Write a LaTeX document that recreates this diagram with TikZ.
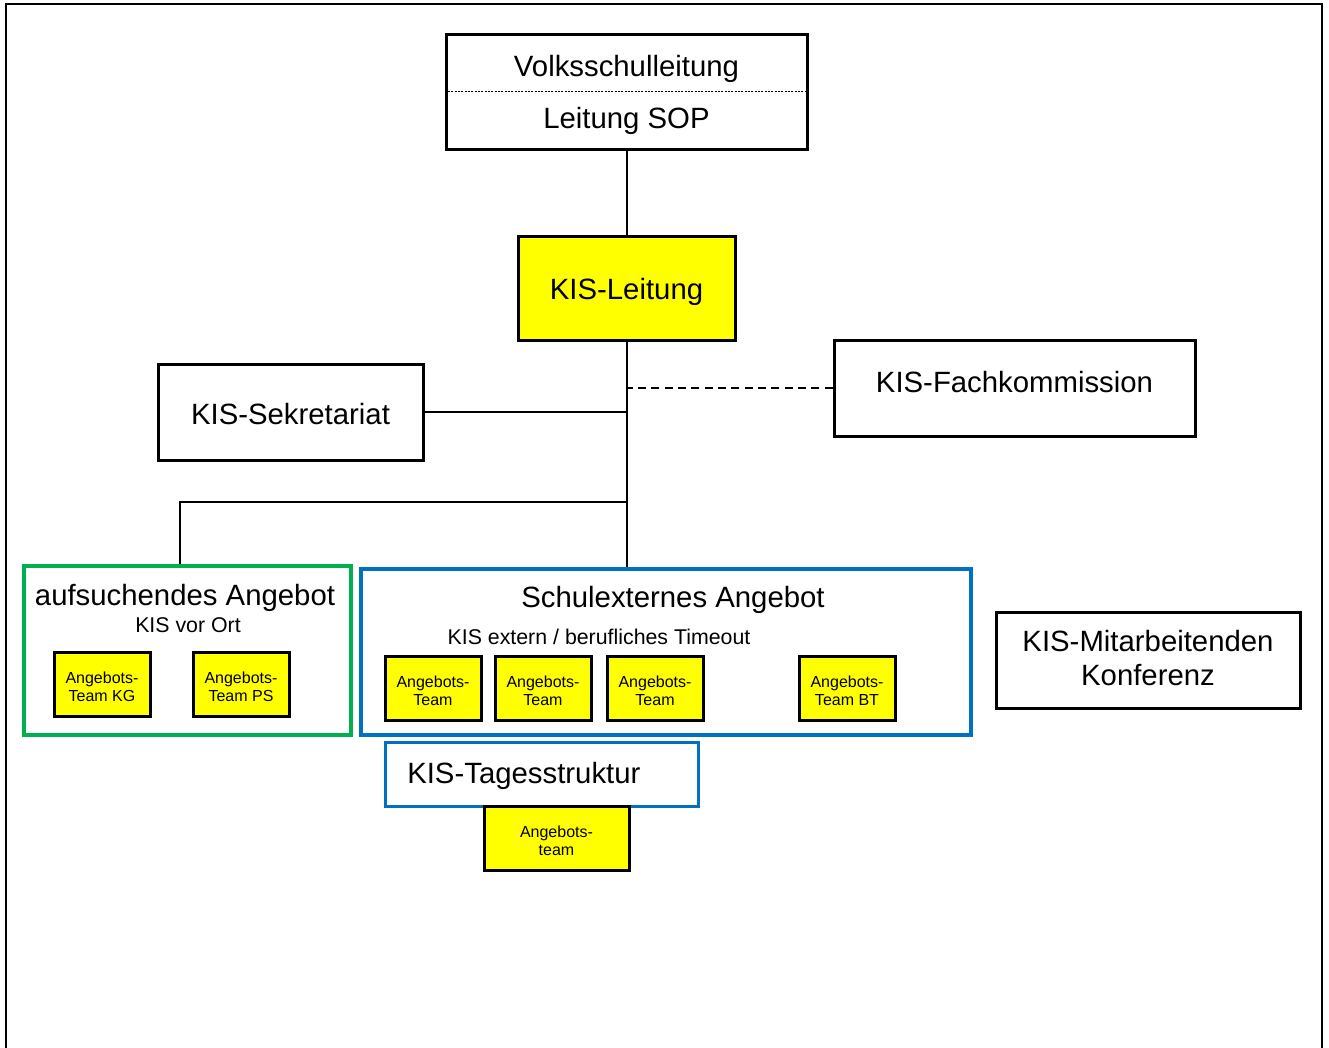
\documentclass[tikz,border=0pt]{standalone}
\usepackage{fontspec}
\setmainfont{Liberation Sans}
\definecolor{kgreen}{HTML}{00B050}
\definecolor{kblue}{HTML}{0070C0}
\definecolor{kyellow}{HTML}{FFFF00}
\begin{document}
\begin{tikzpicture}[x=0.75pt,y=-0.75pt,
  big/.style={font=\fontsize{22}{25.5}\selectfont, align=center},
  mid/.style={font=\fontsize{16}{19}\selectfont},
  small/.style={font=\fontsize{12}{13.5}\selectfont, align=center},
  wbox/.style={draw, line width=2.25pt, fill=white, inner sep=0pt},
  ybox/.style={draw, line width=2.25pt, fill=kyellow, inner sep=0pt},
  team/.style={ybox, minimum width=72pt, minimum height=48pt,
    label={[small, inner sep=0pt, yshift=-1.9pt]center:#1}},
  conn/.style={line width=1.5pt},
  txt/.style={inner sep=0pt}]
\useasboundingbox (0,0) rectangle (1329,1047);
% outer frame (open at the bottom)
\draw[line width=1.5pt] (6,1060) -- (6,4) -- (1322,4) -- (1322,1060);

% top box
\node[wbox, minimum width=270.75pt, minimum height=86.25pt] (vs) at (626.5,91.5) {};
\draw[line width=0.6pt, dash pattern=on 1.5pt off 1pt] (vs.west |- 0,91) -- (vs.east |- 0,91);
\node[txt, big] (vst) at (626.5,69) {Volksschulleitung};
\node[txt, big] (sop) at (626.5,121) {Leitung SOP};

% KIS-Leitung
\node[ybox, minimum width=162.75pt, minimum height=78pt] (kl) at (626.5,288) {};
\node[txt, big] (klt) at (626.5,292) {KIS-Leitung};

% Sekretariat and Fachkommission
\node[wbox, minimum width=198.75pt, minimum height=72pt] (sek) at (290.5,412) {};
\node[txt, big] (sekt) at (290.5,414) {KIS-Sekretariat};
\node[wbox, minimum width=270.75pt, minimum height=72pt] (fk) at (1014.5,388) {};
\node[txt, big] (fkt) at (1014.5,382) {KIS-Fachkommission};

% green box
\node[draw=kgreen, line width=3pt, fill=white, minimum width=245.25pt, minimum height=126.75pt] (ga) at (187.5,650.5) {};
\node[txt, big] (gat) at (185,598) {aufsuchendes Angebot};
\node[txt, mid] (gas) at (188,625) {KIS vor Ort};
\node[team={Angebots-\\Team KG}] (tkg) at (102,684) {};
\node[team={Angebots-\\Team PS}] (tps) at (241,684) {};

% blue box
\node[draw=kblue, line width=3pt, fill=white, minimum width=457.5pt, minimum height=124.5pt] (be) at (666,652) {};
\node[txt, big] (bet) at (673,600) {Schulexternes Angebot};
\node[txt, mid] (bes) at (599,637) {KIS extern / berufliches Timeout};
\node[team={Angebots-\\Team}] (t1) at (433,688) {};
\node[team={Angebots-\\Team}] (t2) at (543,688) {};
\node[team={Angebots-\\Team}] (t3) at (655,688) {};
\node[team={Angebots-\\Team BT}] (tbt) at (847,688) {};

% Tagesstruktur
\node[draw=kblue, line width=2.25pt, fill=white, minimum width=234.75pt, minimum height=48pt] (ts) at (541.5,774) {};
\node[txt, big, anchor=west] (tst) at (407,776) {KIS-Tagesstruktur};
\node[team={Angebots-\\team}, minimum width=108.75pt] (tsa) at (556.5,838) {};

% Mitarbeitenden Konferenz
\node[wbox, minimum width=228pt, minimum height=72pt] (mk) at (1148,660) {};
\node[txt, big] (mkt) at (1148,658) {KIS-Mitarbeitenden\\Konferenz};

% connectors
\coordinate (jn) at (627,502);
\coordinate (gl) at (180,502);
\draw[conn] (vs.south) -- (kl.north);
\draw[conn] (kl.south) -- (kl.south |- be.north);
\draw[conn] (sek.east) -- (sek.east -| kl.south);
\draw[conn, dashed, dash pattern=on 6pt off 4pt] (fk.west) -- (fk.west -| kl.south);
\draw[conn] (jn) -- (gl) -- (gl |- ga.north);
\end{tikzpicture}
\end{document}
